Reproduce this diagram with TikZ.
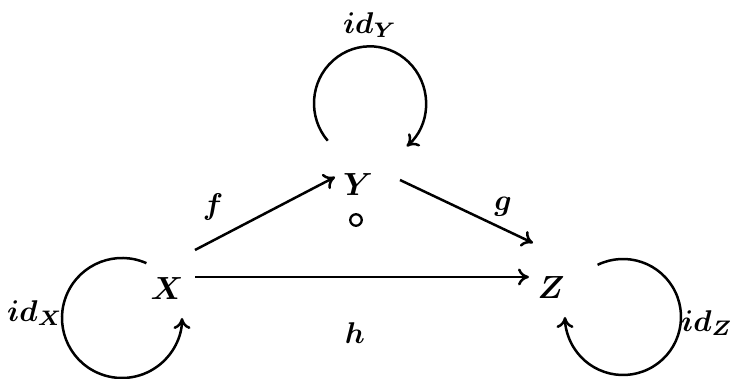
\documentclass[tikz,border=0pt]{standalone}
\usetikzlibrary{arrows.meta}
\begin{document}
\begin{tikzpicture}[x=1pt,y=1pt,
  obj/.style={inner sep=0pt,scale=3.2,font=\boldmath},
  lbl/.style={inner sep=0pt,scale=3.0,font=\boldmath},
  compo/.style={circle,draw,line width=2.3pt,inner sep=0pt,minimum size=11.5pt},
  arr/.style={line width=2.5pt,-{To[length=11pt,width=17pt,line width=2.5pt]}}]
\useasboundingbox (0,0) rectangle (740,379);
\fill[white] (0,0) rectangle (740,379);
% objects
\node[obj] (X) at (167,90) {$X$};
\node[obj] (Y) at (358,194) {$Y$};
\node[obj] (Z) at (551,91) {$Z$};
\node[compo] (comp) at (356,159) {};
% morphisms
\draw[arr] ([shift={(28,39)}]X.center) -- ([shift={(-23,8)}]Y.center);
\draw[arr] ([shift={(42,5)}]Y.center) -- ([shift={(-18,45)}]Z.center);
\draw[arr] ([shift={(28,12)}]X.center) -- ([shift={(-22,11)}]Z.center);
% identity loops
\draw[arr] ([shift={(12,81)}]Y.center) ++(221:56) arc[start angle=221,end angle=-49,x radius=56,y radius=57];
\draw[arr] ([shift={(-45,-29)}]X.center) ++(66:60) arc[start angle=66,end angle=360,radius=60];
\draw[arr] ([shift={(72,-29)}]Z.center) ++(116:58) arc[start angle=116,end angle=-180,radius=58];
% labels
\node[lbl] (lf) at (213,172) {$f$};
\node[lbl] (lg) at (503,172) {$g$};
\node[lbl] (lh) at (355,46) {$h$};
\node[lbl] (lidX) at (35,66) {$id_X$};
\node[lbl] (lidY) at (370,354) {$id_Y$};
\node[lbl] (lidZ) at (707,56) {$id_Z$};
\end{tikzpicture}
\end{document}
